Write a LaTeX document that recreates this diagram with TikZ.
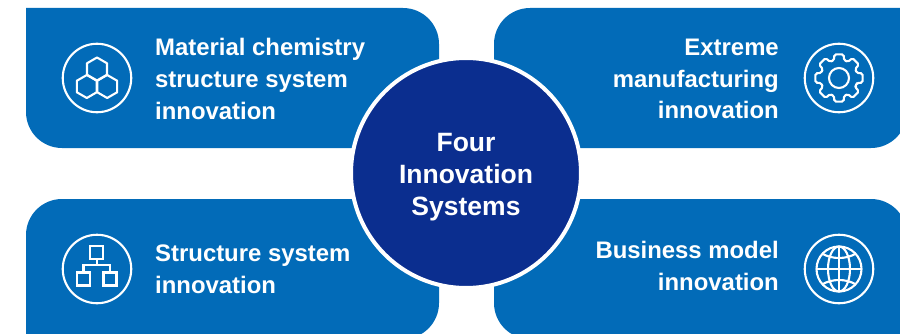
\documentclass[tikz,border=0pt]{standalone}
\usepackage{fontspec}
\setmainfont{Liberation Sans}
\definecolor{panelblue}{HTML}{026BB8}
\definecolor{hubblue}{HTML}{0B2E8F}
\tikzset{
  panel/.style={fill=panelblue},
  hub/.style={circle,fill=hubblue,draw=white,line width=4pt,minimum size=230pt,inner sep=0pt},
  hublabel/.style={text=white,inner sep=0pt,align=center,font=\fontsize{26.5}{32}\bfseries\selectfont},
  label/.style={text=white,inner sep=0pt,font=\fontsize{23.9}{31.7}\bfseries\selectfont},
  ring/.style={circle,draw=white,line width=2.1pt,minimum size=68.5pt,inner sep=0pt},
  iconline/.style={draw=white,line width=2.1pt},
  orgbox/.style={rectangle,draw=white,line width=2.1pt,minimum size=13pt,inner sep=0pt}
}
\begin{document}
\begin{tikzpicture}[x=1pt,y=1pt]
  \clip (0,0) rectangle (900,333);
  % panels
  \fill[panel] (26,325) -- (403,325) arc (90:0:36) -- (439,185) -- (62,185) arc (270:180:36) -- cycle;
  \fill[panel] (530,325) -- (907,325) -- (907,221) arc (0:-90:36) -- (494,185) -- (494,289) arc (180:90:36) -- cycle;
  \fill[panel] (62,134) -- (439,134) -- (439,30) arc (0:-90:36) -- (26,-6) -- (26,98) arc (180:90:36) -- cycle;
  \fill[panel] (494,134) -- (871,134) arc (90:0:36) -- (907,-6) -- (530,-6) arc (270:180:36) -- cycle;
  % centre
  \node[hub] (hub) at (466,160) {};
  \node[hublabel] (hubtext) at (466,156) {Four\\Innovation\\Systems};
  % labels
  \node[label,anchor=west,align=left] (chem) at (155,254) {Material chemistry\\structure system\\innovation};
  \node[label,anchor=east,align=right] (manu) at (779,254) {Extreme\\manufacturing\\innovation};
  \node[label,anchor=west,align=left] (struct) at (155,64) {Structure system\\innovation};
  \node[label,anchor=east,align=right] (biz) at (779,67) {Business model\\innovation};
  % icon rings
  \node[ring] (chemring) at (97,255) {};
  \node[ring] (manuring) at (839,255) {};
  \node[ring] (structring) at (97,64) {};
  \node[ring] (bizring) at (839,64) {};
  % hexagons
  \foreach \cx/\cy in {97/264,86.8/246.5,107.2/246.5} {
    \draw[iconline,line join=round] (\cx,\cy) ++(30:11.5) -- ++(150:11.5) -- ++(210:11.5) -- ++(270:11.5)
      -- ++(330:11.5) -- ++(30:11.5) -- cycle;
  }
  % gear
  \begin{scope}[shift={(839,255)}]
    \draw[iconline,rounded corners=1.5pt] (-22.5:18.5)
      \foreach \a in {0,45,...,315} {
        -- (\a-16:18.5) -- (\a-11:24) -- (\a+11:24) -- (\a+16:18.5)
      } -- cycle;
    \draw[iconline] (0,0) circle (10);
  \end{scope}
  % org chart
  \node[orgbox] (orgtop) at (96.7,80.5) {};
  \node[orgbox] (orgleft) at (83.5,54) {};
  \node[orgbox] (orgright) at (110,54) {};
  \draw[iconline] (orgtop.south) -- ++(0,-5) coordinate (orgmid);
  \draw[iconline] (orgleft.north) |- (orgmid) -| (orgright.north);
  % globe
  \begin{scope}[shift={(839,64)}]
    \draw[iconline] (0,0) circle (22.5);
    \draw[iconline] (0,0) ellipse (11 and 22.5);
    \draw[iconline] (0,22.5) -- (0,-22.5);
    \draw[iconline] (-22.5,0) -- (22.5,0);
    \draw[iconline] (-17,15.5) .. controls (-7,9.5) and (7,9.5) .. (17,15.5);
    \draw[iconline] (-17,-15.5) .. controls (-7,-9.5) and (7,-9.5) .. (17,-15.5);
  \end{scope}
\end{tikzpicture}
\end{document}
